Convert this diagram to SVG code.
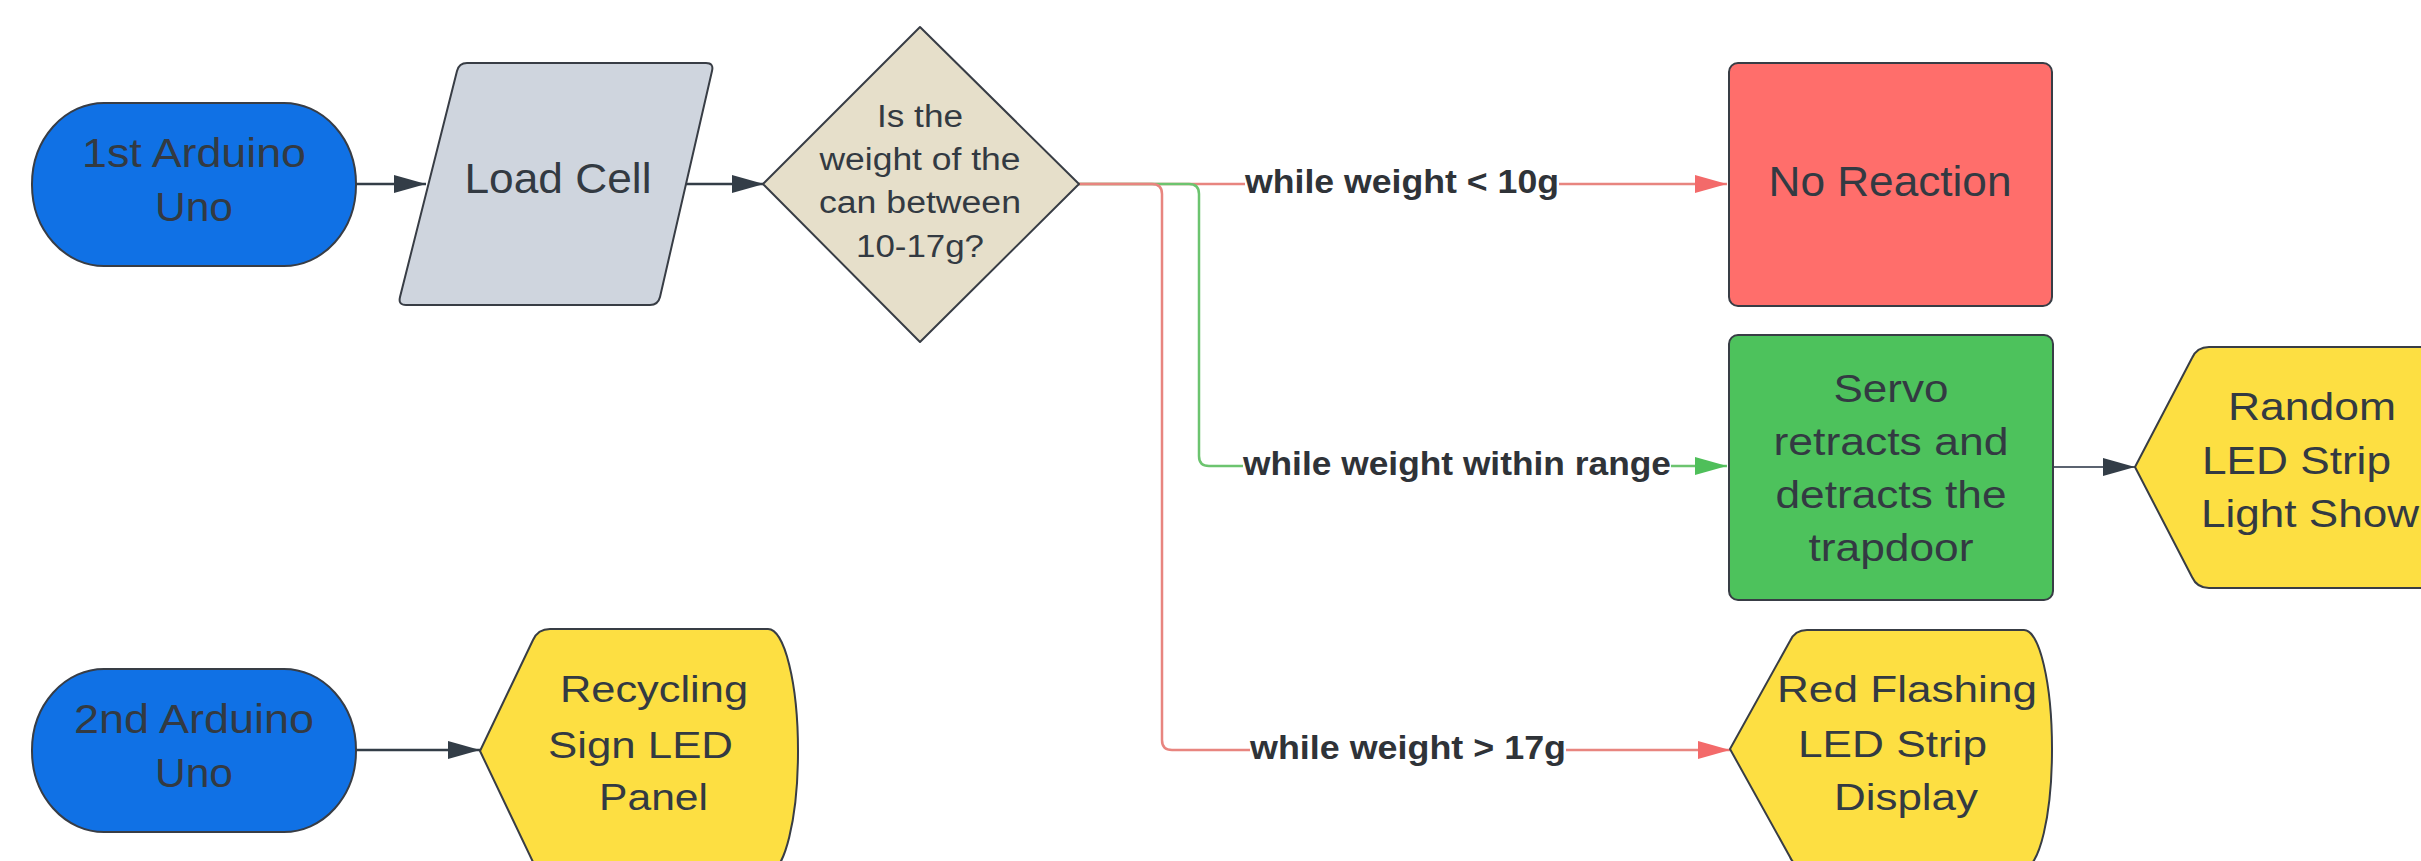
<svg xmlns="http://www.w3.org/2000/svg" width="2421" height="861" viewBox="0 0 2421 861">
<style>
.node{stroke:#383d45;stroke-width:2;stroke-linejoin:round}
.t{font-family:"Liberation Sans",Arial,sans-serif;fill:#333a42}
.lbl{font-family:"Liberation Sans",Arial,sans-serif;font-weight:bold;font-size:33px;fill:#2f3338}
.dark{stroke:#333d47;stroke-width:2.5;fill:none}
.thin{stroke:#5b6370;stroke-width:1.8;fill:none}
.red{stroke:#e8857f;stroke-width:2.5;fill:none}
.green{stroke:#6cc46f;stroke-width:2.5;fill:none}
.bg{fill:#ffffff}
</style>
<defs>
<marker id="ad" markerUnits="userSpaceOnUse" markerWidth="34" markerHeight="20" refX="32" refY="9" orient="auto"><path d="M0,0 L32,9 L0,18 Z" fill="#333d47"/></marker>
<marker id="ar" markerUnits="userSpaceOnUse" markerWidth="34" markerHeight="20" refX="32" refY="9" orient="auto"><path d="M0,0 L32,9 L0,18 Z" fill="#f36a6a"/></marker>
<marker id="ag" markerUnits="userSpaceOnUse" markerWidth="34" markerHeight="20" refX="32" refY="9" orient="auto"><path d="M0,0 L32,9 L0,18 Z" fill="#4fbf5a"/></marker>
</defs>
<rect width="2421" height="861" fill="#ffffff"/>

<g id="connectors">
<path class="dark" d="M356,184 H426" marker-end="url(#ad)"/>
<path class="dark" d="M686,184 H764" marker-end="url(#ad)"/>
<path class="red" d="M1079,184 H1727" marker-end="url(#ar)"/>
<path class="green" d="M1079,184 H1189 Q1199,184 1199,194 V456 Q1199,466 1209,466 H1727" marker-end="url(#ag)"/>
<path class="red" d="M1079,184 H1152 Q1162,184 1162,194 V740 Q1162,750 1172,750 H1730" marker-end="url(#ar)"/>
<path class="thin" d="M2053,467 H2135" marker-end="url(#ad)"/>
<path class="dark" d="M356,750 H480" marker-end="url(#ad)"/>
<rect class="bg" x="1245" y="168" width="314" height="34"/>
<text class="lbl" x="1245" y="193" textLength="314" lengthAdjust="spacingAndGlyphs">while weight &lt; 10g</text>
<rect class="bg" x="1243" y="450" width="428" height="34"/>
<text class="lbl" x="1243" y="475" textLength="428" lengthAdjust="spacingAndGlyphs">while weight within range</text>
<rect class="bg" x="1250" y="734" width="316" height="34"/>
<text class="lbl" x="1250" y="759" textLength="316" lengthAdjust="spacingAndGlyphs">while weight &gt; 17g</text>
</g>

<g id="arduino1">
<rect class="node" x="32" y="103" width="324" height="163" rx="72" ry="81" fill="#1071e5"/>
<text class="t" font-size="40" text-anchor="middle" x="194" y="167" textLength="224" lengthAdjust="spacingAndGlyphs">1st Arduino</text>
<text class="t" font-size="40" text-anchor="middle" x="194" y="221" textLength="78" lengthAdjust="spacingAndGlyphs">Uno</text>
</g>

<g id="loadcell">
<path class="node" d="M467,63 H706 Q714,63 712,71 L660,297 Q658,305 650,305 H406 Q398,305 400,297 L457,71 Q459,63 467,63 Z" fill="#cfd5de"/>
<text class="t" font-size="43" text-anchor="middle" x="558" y="193" textLength="187" lengthAdjust="spacingAndGlyphs">Load Cell</text>
</g>

<g id="decision">
<polygon class="node" points="920,27 1079,184 920,342 763,184" fill="#e6dfca"/>
<text class="t" font-size="31" text-anchor="middle" x="920" y="127" textLength="86" lengthAdjust="spacingAndGlyphs">Is the</text>
<text class="t" font-size="31" text-anchor="middle" x="920" y="170" textLength="201" lengthAdjust="spacingAndGlyphs">weight of the</text>
<text class="t" font-size="31" text-anchor="middle" x="920" y="213" textLength="202" lengthAdjust="spacingAndGlyphs">can between</text>
<text class="t" font-size="31" text-anchor="middle" x="920" y="257" textLength="128" lengthAdjust="spacingAndGlyphs">10-17g?</text>
</g>

<g id="noreaction">
<rect class="node" x="1729" y="63" width="323" height="243" rx="9" fill="#ff6e6b"/>
<text class="t" font-size="43" text-anchor="middle" x="1890" y="196" textLength="243" lengthAdjust="spacingAndGlyphs">No Reaction</text>
</g>

<g id="servo">
<rect class="node" x="1729" y="335" width="324" height="265" rx="9" fill="#4dc25c"/>
<text class="t" font-size="38" text-anchor="middle" x="1891" y="402" textLength="115" lengthAdjust="spacingAndGlyphs">Servo</text>
<text class="t" font-size="38" text-anchor="middle" x="1891" y="455" textLength="235" lengthAdjust="spacingAndGlyphs">retracts and</text>
<text class="t" font-size="38" text-anchor="middle" x="1891" y="508" textLength="231" lengthAdjust="spacingAndGlyphs">detracts the</text>
<text class="t" font-size="38" text-anchor="middle" x="1891" y="561" textLength="165" lengthAdjust="spacingAndGlyphs">trapdoor</text>
</g>

<g id="randomled">
<path class="node" d="M2135,467 L2192,358 Q2197,347 2209,347 H2440 V588 H2209 Q2197,588 2192,577 Z" fill="#fddf42"/>
<text class="t" font-size="38" x="2228" y="420" textLength="168" lengthAdjust="spacingAndGlyphs">Random</text>
<text class="t" font-size="38" x="2202" y="474" textLength="189" lengthAdjust="spacingAndGlyphs">LED Strip</text>
<text class="t" font-size="38" x="2201" y="527" textLength="218" lengthAdjust="spacingAndGlyphs">Light Show</text>
</g>

<g id="arduino2">
<rect class="node" x="32" y="669" width="324" height="163" rx="72" ry="81" fill="#1071e5"/>
<text class="t" font-size="40" text-anchor="middle" x="194" y="733" textLength="240" lengthAdjust="spacingAndGlyphs">2nd Arduino</text>
<text class="t" font-size="40" text-anchor="middle" x="194" y="787" textLength="78" lengthAdjust="spacingAndGlyphs">Uno</text>
</g>

<g id="recycling">
<path class="node" d="M480,751 L533,640 Q538,629 550,629 H768 A30 122 0 0 1 768 873 H550 Q538,873 533,862 Z" fill="#fddf42"/>
<text class="t" font-size="36" x="560" y="702" textLength="188" lengthAdjust="spacingAndGlyphs">Recycling</text>
<text class="t" font-size="36" x="548" y="758" textLength="185" lengthAdjust="spacingAndGlyphs">Sign LED</text>
<text class="t" font-size="36" x="599" y="810" textLength="109" lengthAdjust="spacingAndGlyphs">Panel</text>
</g>

<g id="redflashing">
<path class="node" d="M1730,749 L1790,641 Q1795,630 1807,630 H2024 A28 119 0 0 1 2024 868 H1807 Q1795,868 1790,857 Z" fill="#fddf42"/>
<text class="t" font-size="36" x="1777" y="702" textLength="260" lengthAdjust="spacingAndGlyphs">Red Flashing</text>
<text class="t" font-size="36" x="1798" y="757" textLength="189" lengthAdjust="spacingAndGlyphs">LED Strip</text>
<text class="t" font-size="36" x="1834" y="810" textLength="144" lengthAdjust="spacingAndGlyphs">Display</text>
</g>
</svg>
